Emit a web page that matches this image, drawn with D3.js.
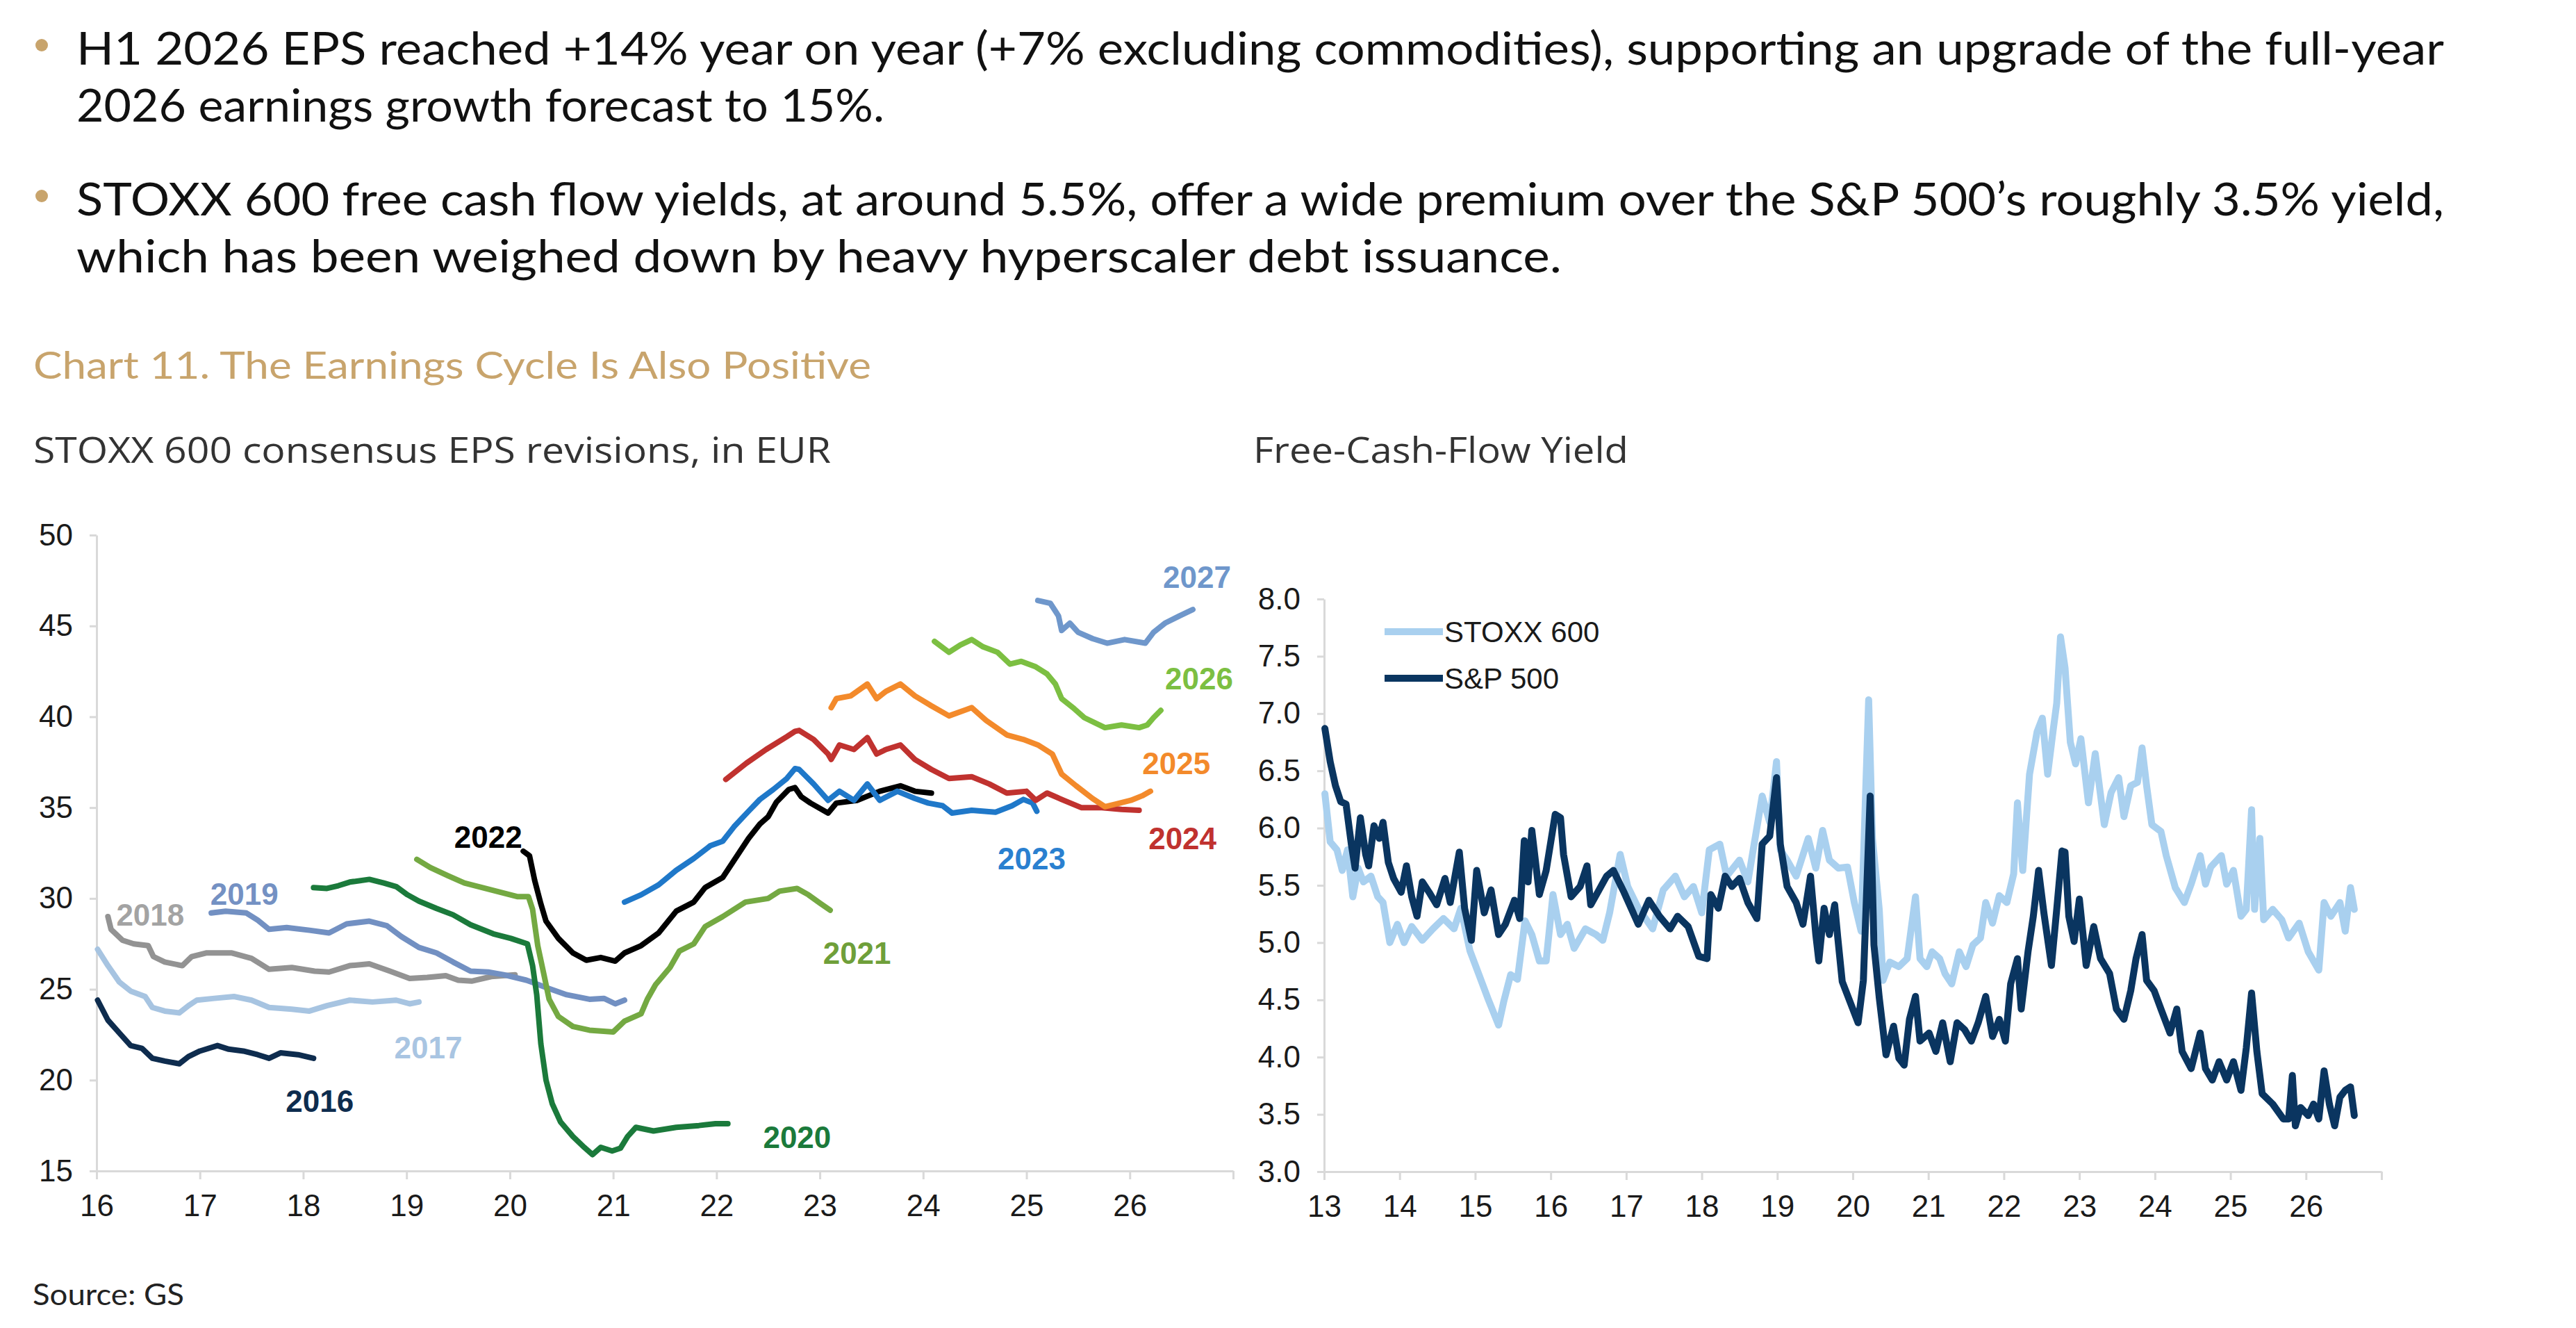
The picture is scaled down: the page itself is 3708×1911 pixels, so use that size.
<!DOCTYPE html>
<html>
<head>
<meta charset="utf-8">
<script src="https://cdn.jsdelivr.net/npm/d3@7"></script>
<style>
  html, body { margin: 0; padding: 0; background: #fff; }
  svg { display: block; }
</style>
</head>
<body>
<svg id="chart" width="3708" height="1911"></svg>
<script>
// ---- text ----
const bullets = [
  ["H1 2026 EPS reached +14% year on year (+7% excluding commodities), supporting an upgrade of the full-year",
   "2026 earnings growth forecast to 15%."],
  ["STOXX 600 free cash flow yields, at around 5.5%, offer a wide premium over the S&P 500\u2019s roughly 3.5% yield,",
   "which has been weighed down by heavy hyperscaler debt issuance."]
];
const chartTitle = "Chart 11. The Earnings Cycle Is Also Positive";
const leftTitle = "STOXX 600 consensus EPS revisions, in EUR";
const rightTitle = "Free-Cash-Flow Yield";
const sourceNote = "Source: GS";

// ---- left panel: consensus EPS for each calendar year, [year, EUR] ----
const epsYears = ["2016", "2017", "2018", "2019", "2020", "2021", "2022", "2023", "2024", "2025", "2026", "2027"];
const eps2016 = [[16.01,24.4],[16.11,23.3],[16.22,22.6],[16.33,21.9],[16.44,21.75],[16.54,21.2],[16.66,21.05],[16.8,20.9],[16.89,21.3],[17.0,21.6],[17.17,21.9],[17.28,21.7],[17.42,21.6],[17.56,21.4],[17.67,21.2],[17.78,21.5],[17.95,21.4],[18.1,21.2]];
const eps2017 = [[16.01,27.2],[16.11,26.3],[16.22,25.4],[16.33,24.9],[16.47,24.6],[16.54,24.0],[16.66,23.8],[16.8,23.7],[16.89,24.1],[16.97,24.4],[17.14,24.5],[17.33,24.6],[17.5,24.4],[17.67,24.0],[17.89,23.9],[18.06,23.8],[18.23,24.1],[18.45,24.4],[18.67,24.3],[18.9,24.4],[19.03,24.2],[19.12,24.3]];
const eps2018 = [[16.11,29.0],[16.14,28.3],[16.25,27.7],[16.36,27.5],[16.5,27.4],[16.55,26.8],[16.66,26.5],[16.83,26.3],[16.92,26.8],[17.06,27.0],[17.31,27.0],[17.5,26.7],[17.67,26.1],[17.89,26.2],[18.11,26.0],[18.25,25.95],[18.45,26.3],[18.64,26.4],[18.84,26.0],[19.03,25.6],[19.2,25.65],[19.38,25.75],[19.5,25.5],[19.63,25.45],[19.82,25.7],[20.05,25.8]];
const eps2019 = [[17.11,29.2],[17.25,29.3],[17.45,29.2],[17.56,28.8],[17.67,28.3],[17.84,28.4],[18.06,28.25],[18.25,28.1],[18.42,28.6],[18.64,28.75],[18.81,28.5],[18.95,27.9],[19.12,27.3],[19.29,27.0],[19.45,26.5],[19.62,26.0],[19.79,25.95],[19.94,25.8],[20.16,25.5],[20.35,25.1],[20.55,24.7],[20.77,24.45],[20.91,24.5],[21.02,24.2],[21.11,24.4]];
const eps2020 = [[18.1,30.6],[18.23,30.55],[18.34,30.7],[18.45,30.9],[18.64,31.05],[18.78,30.85],[18.9,30.65],[19.01,30.2],[19.12,29.85],[19.29,29.45],[19.45,29.1],[19.62,28.55],[19.84,28.05],[20.01,27.8],[20.17,27.5],[20.22,26.3],[20.26,24.7],[20.3,22.0],[20.35,20.0],[20.41,18.7],[20.49,17.7],[20.61,16.9],[20.72,16.3],[20.8,15.9],[20.88,16.3],[20.99,16.1],[21.07,16.25],[21.14,16.9],[21.22,17.4],[21.39,17.2],[21.61,17.4],[21.83,17.5],[21.99,17.6],[22.11,17.6]];
const eps2021 = [[19.1,32.15],[19.23,31.7],[19.4,31.25],[19.56,30.85],[19.73,30.6],[19.9,30.35],[20.07,30.1],[20.18,30.1],[20.22,29.4],[20.27,27.4],[20.33,25.8],[20.38,24.45],[20.47,23.5],[20.61,22.95],[20.77,22.75],[21.0,22.65],[21.11,23.25],[21.27,23.65],[21.33,24.45],[21.41,25.25],[21.55,26.2],[21.64,27.1],[21.78,27.5],[21.89,28.45],[22.06,29.0],[22.28,29.8],[22.5,30.0],[22.61,30.4],[22.78,30.55],[22.89,30.2],[23.0,29.75],[23.1,29.35]];
const eps2022 = [[20.13,32.6],[20.19,32.35],[20.24,31.0],[20.3,29.7],[20.35,28.75],[20.47,27.8],[20.61,27.0],[20.74,26.6],[20.88,26.75],[21.02,26.55],[21.11,27.0],[21.27,27.4],[21.44,28.1],[21.61,29.3],[21.78,29.8],[21.89,30.6],[22.06,31.15],[22.17,32.1],[22.31,33.3],[22.42,34.1],[22.5,34.5],[22.58,35.3],[22.7,36.0],[22.76,36.1],[22.82,35.6],[22.91,35.25],[23.08,34.7],[23.16,35.25],[23.36,35.4],[23.47,35.65],[23.58,35.9],[23.78,36.2],[23.92,35.9],[24.08,35.8]];
const eps2023 = [[21.11,29.8],[21.27,30.2],[21.44,30.75],[21.61,31.55],[21.78,32.2],[21.94,32.9],[22.06,33.15],[22.17,33.95],[22.31,34.8],[22.42,35.45],[22.55,36.0],[22.68,36.6],[22.76,37.15],[22.8,37.1],[22.94,36.3],[23.08,35.4],[23.19,35.9],[23.33,35.4],[23.46,36.3],[23.58,35.4],[23.75,35.9],[23.92,35.5],[24.05,35.25],[24.19,35.1],[24.28,34.7],[24.47,34.85],[24.7,34.75],[24.86,35.1],[24.97,35.45],[25.06,35.25],[25.1,34.8]];
const eps2024 = [[22.09,36.55],[22.29,37.45],[22.48,38.2],[22.68,38.9],[22.76,39.2],[22.8,39.25],[22.94,38.75],[23.08,37.95],[23.11,37.65],[23.19,38.45],[23.33,38.2],[23.46,38.85],[23.55,37.95],[23.64,38.2],[23.78,38.45],[23.92,37.65],[24.08,37.1],[24.25,36.6],[24.47,36.7],[24.64,36.3],[24.81,35.8],[25.0,35.9],[25.09,35.4],[25.2,35.8],[25.36,35.4],[25.53,35.0],[25.73,35.0],[25.92,34.9],[26.09,34.85]];
const eps2025 = [[23.11,40.5],[23.16,41.0],[23.3,41.15],[23.46,41.8],[23.55,41.0],[23.64,41.4],[23.78,41.8],[23.92,41.15],[24.08,40.6],[24.25,40.05],[24.47,40.5],[24.61,39.8],[24.81,39.0],[24.97,38.75],[25.11,38.45],[25.25,37.95],[25.34,36.85],[25.48,36.2],[25.64,35.5],[25.76,35.05],[25.87,35.2],[26.01,35.4],[26.12,35.65],[26.2,35.9]];
const eps2026 = [[24.11,44.15],[24.25,43.55],[24.36,43.95],[24.47,44.25],[24.58,43.85],[24.72,43.55],[24.84,42.9],[24.95,43.05],[25.09,42.75],[25.2,42.35],[25.28,41.8],[25.34,41.0],[25.45,40.5],[25.56,39.95],[25.76,39.4],[25.92,39.55],[26.09,39.4],[26.17,39.55],[26.23,39.95],[26.3,40.35]];
const eps2027 = [[25.11,46.4],[25.23,46.25],[25.31,45.55],[25.34,44.75],[25.42,45.15],[25.5,44.65],[25.64,44.3],[25.78,44.05],[25.95,44.25],[26.15,44.05],[26.23,44.65],[26.34,45.15],[26.48,45.55],[26.61,45.9]];
// where each year's label sits, in data coordinates [year, EUR]
const epsLabelAt = [[18.16,18.85],[19.21,21.8],[16.52,29.1],[17.43,30.25],[22.78,16.85],[23.36,27.0],[19.79,33.4],[25.05,32.2],[26.51,33.3],[26.45,37.45],[26.67,42.1],[26.65,47.7]];
const epsXTicks = ["16", "17", "18", "19", "20", "21", "22", "23", "24", "25", "26"];
const epsYTicks = [15, 20, 25, 30, 35, 40, 45, 50];

// ---- right panel: free-cash-flow yield, [year, %] ----
const fcfNames = ["STOXX 600", "S&P 500"];
const fcfStoxx = [[13.01,6.30],[13.08,5.88],[13.17,5.81],[13.24,5.63],[13.31,5.81],[13.38,5.40],[13.45,5.65],[13.52,5.53],[13.62,5.58],[13.71,5.40],[13.78,5.35],[13.87,5.00],[13.97,5.16],[14.06,5.00],[14.16,5.14],[14.30,5.02],[14.44,5.12],[14.58,5.21],[14.72,5.12],[14.81,5.30],[14.93,4.93],[15.05,4.72],[15.17,4.51],[15.31,4.28],[15.38,4.49],[15.47,4.72],[15.56,4.68],[15.66,5.19],[15.75,5.07],[15.85,4.84],[15.94,4.84],[16.03,5.42],[16.13,5.07],[16.22,5.16],[16.31,4.95],[16.46,5.12],[16.60,5.07],[16.69,5.02],[16.78,5.26],[16.92,5.77],[17.02,5.49],[17.16,5.30],[17.35,5.12],[17.49,5.46],[17.65,5.58],[17.77,5.40],[17.89,5.49],[18.00,5.26],[18.10,5.81],[18.24,5.86],[18.33,5.58],[18.50,5.72],[18.61,5.53],[18.80,6.28],[18.90,6.05],[18.99,6.58],[19.04,5.81],[19.13,5.72],[19.25,5.58],[19.41,5.91],[19.51,5.65],[19.60,5.98],[19.69,5.72],[19.81,5.65],[19.93,5.66],[20.02,5.35],[20.11,5.10],[20.21,7.12],[20.26,5.91],[20.35,5.29],[20.40,4.67],[20.49,4.83],[20.61,4.79],[20.72,4.86],[20.83,5.40],[20.89,4.86],[20.98,4.79],[21.05,4.92],[21.15,4.86],[21.22,4.73],[21.31,4.64],[21.41,4.92],[21.50,4.79],[21.59,4.98],[21.69,5.04],[21.76,5.35],[21.85,5.17],[21.94,5.41],[22.04,5.35],[22.13,5.60],[22.18,6.22],[22.25,5.63],[22.34,6.47],[22.44,6.84],[22.51,6.96],[22.58,6.47],[22.65,6.84],[22.70,7.09],[22.75,7.67],[22.81,7.40],[22.88,6.75],[22.95,6.56],[23.02,6.78],[23.12,6.22],[23.21,6.65],[23.33,6.03],[23.42,6.31],[23.52,6.44],[23.59,6.10],[23.68,6.37],[23.77,6.40],[23.83,6.70],[23.89,6.37],[23.96,6.03],[24.08,5.97],[24.15,5.76],[24.27,5.48],[24.39,5.35],[24.48,5.51],[24.60,5.76],[24.67,5.51],[24.74,5.66],[24.88,5.76],[24.95,5.51],[25.04,5.63],[25.14,5.23],[25.21,5.29],[25.28,6.16],[25.32,5.29],[25.39,5.91],[25.44,5.20],[25.56,5.29],[25.68,5.20],[25.77,5.04],[25.91,5.17],[26.03,4.92],[26.17,4.76],[26.24,5.35],[26.33,5.23],[26.45,5.35],[26.52,5.10],[26.59,5.48],[26.64,5.29]];
const fcfSpx = [[13.01,6.87],[13.08,6.58],[13.15,6.37],[13.22,6.23],[13.29,6.21],[13.36,5.86],[13.41,5.65],[13.48,6.09],[13.55,5.77],[13.59,5.67],[13.66,6.02],[13.73,5.91],[13.78,6.05],[13.85,5.70],[13.92,5.56],[14.02,5.44],[14.09,5.67],[14.16,5.40],[14.23,5.23],[14.30,5.53],[14.39,5.44],[14.49,5.33],[14.60,5.56],[14.67,5.35],[14.79,5.79],[14.86,5.30],[14.95,5.02],[15.02,5.63],[15.12,5.26],[15.21,5.46],[15.31,5.07],[15.40,5.16],[15.52,5.37],[15.59,5.21],[15.65,5.89],[15.70,5.53],[15.75,5.98],[15.85,5.42],[15.94,5.63],[16.06,6.12],[16.13,6.09],[16.17,5.77],[16.27,5.40],[16.39,5.49],[16.48,5.67],[16.53,5.33],[16.64,5.46],[16.74,5.58],[16.83,5.63],[16.97,5.44],[17.16,5.16],[17.30,5.37],[17.44,5.23],[17.58,5.12],[17.68,5.23],[17.82,5.14],[17.96,4.88],[18.07,4.86],[18.12,5.42],[18.22,5.30],[18.31,5.58],[18.40,5.49],[18.50,5.56],[18.61,5.35],[18.73,5.21],[18.80,5.86],[18.90,5.93],[18.99,6.44],[19.04,5.86],[19.13,5.49],[19.25,5.35],[19.34,5.16],[19.44,5.58],[19.51,5.07],[19.55,4.84],[19.62,5.30],[19.69,5.07],[19.76,5.33],[19.80,5.05],[19.86,4.66],[19.93,4.54],[20.07,4.30],[20.14,4.67],[20.23,6.28],[20.28,4.98],[20.35,4.52],[20.44,4.02],[20.54,4.27],[20.61,3.99],[20.68,3.93],[20.75,4.33],[20.83,4.53],[20.89,4.14],[21.01,4.21],[21.10,4.05],[21.19,4.30],[21.29,3.96],[21.38,4.30],[21.48,4.24],[21.57,4.14],[21.66,4.30],[21.76,4.53],[21.85,4.18],[21.94,4.33],[22.02,4.14],[22.09,4.64],[22.18,4.86],[22.23,4.42],[22.32,4.92],[22.39,5.23],[22.46,5.63],[22.53,5.26],[22.63,4.80],[22.70,5.29],[22.77,5.80],[22.81,5.79],[22.86,5.23],[22.93,5.01],[23.00,5.38],[23.09,4.80],[23.19,5.14],[23.28,4.86],[23.40,4.73],[23.49,4.42],[23.59,4.33],[23.68,4.58],[23.75,4.86],[23.83,5.07],[23.89,4.67],[23.99,4.58],[24.08,4.42],[24.20,4.21],[24.29,4.42],[24.36,4.05],[24.48,3.90],[24.60,4.21],[24.67,3.90],[24.76,3.80],[24.85,3.96],[24.95,3.80],[25.04,3.96],[25.14,3.71],[25.21,4.08],[25.28,4.56],[25.35,4.05],[25.42,3.68],[25.56,3.59],[25.70,3.46],[25.77,3.46],[25.82,3.84],[25.86,3.40],[25.93,3.56],[26.03,3.49],[26.10,3.59],[26.17,3.46],[26.24,3.88],[26.31,3.59],[26.38,3.40],[26.45,3.65],[26.52,3.71],[26.59,3.74],[26.64,3.49]];
const fcfXTicks = ["13", "14", "15", "16", "17", "18", "19", "20", "21", "22", "23", "24", "25", "26"];
const fcfYTicks = [3.0, 3.5, 4.0, 4.5, 5.0, 5.5, 6.0, 6.5, 7.0, 7.5, 8.0];

// ---- styles ----
const gold = "#c8a46c";
const axisGrey = "#d9d9d9";
const tickFont = "'Liberation Sans', Arial, sans-serif";
const bodyFont = "Lato, 'Open Sans', sans-serif";
const epsColors = ["#0e2c4e", "#a7c4e1", "#939393", "#7290c2", "#1b7a3b", "#74a942", "#000000", "#1f78c9", "#c0322f", "#f38a2b", "#7cbf42", "#6f97cb"];
const epsLabelColors = ["#0e2c4e", "#a9c5e2", "#a3a3a3", "#7491c3", "#1b7a3b", "#6f9f3a", "#000000", "#2a80d0", "#c0322f", "#f38a2b", "#7cbf42", "#6f97cb"];
const fcfColors = ["#a9d0ef", "#0a3560"];

const svg = d3.select("#chart");
svg.append("rect").attr("width", 3708).attr("height", 1911).attr("fill", "#fff");

// squeeze/stretch a text node to the width it has in the reference
const fitWidth = (sel, w) => sel.attr("textLength", w).attr("lengthAdjust", "spacingAndGlyphs");

// ---- header text ----
const bulletTop = [93, 310];
const bulletWidths = [[3408, 1163], [3408, 2138]];
bullets.forEach((lines, i) => {
  svg.append("circle").attr("cx", 60).attr("cy", bulletTop[i] - 28).attr("r", 9).attr("fill", gold);
  lines.forEach((line, j) => {
    svg.append("text")
      .attr("x", 110).attr("y", bulletTop[i] + j * 82)
      .attr("font-family", bodyFont).attr("font-size", 66).attr("fill", "#111")
      .text(line)
      .call(fitWidth, bulletWidths[i][j]);
  });
});

svg.append("text")
  .attr("x", 48).attr("y", 545)
  .attr("font-family", bodyFont).attr("font-size", 54).attr("fill", gold)
  .text(chartTitle).call(fitWidth, 1206);

svg.append("text")
  .attr("x", 48).attr("y", 666)
  .attr("font-family", "'Open Sans', sans-serif").attr("font-size", 52).attr("fill", "#333")
  .text(leftTitle).call(fitWidth, 1148);

svg.append("text")
  .attr("x", 1804).attr("y", 666)
  .attr("font-family", "'Open Sans', sans-serif").attr("font-size", 52).attr("fill", "#333")
  .text(rightTitle).call(fitWidth, 540);

svg.append("text")
  .attr("x", 47).attr("y", 1878)
  .attr("font-family", bodyFont).attr("font-size", 42).attr("fill", "#222")
  .text(sourceNote).call(fitWidth, 218);

// ---- axis helper ----
function styleAxis(g) {
  g.select(".domain").attr("stroke", axisGrey).attr("stroke-width", 3);
  g.selectAll(".tick line").attr("stroke", axisGrey).attr("stroke-width", 3);
  g.selectAll(".tick text").attr("fill", "#1a1a1a").attr("font-family", tickFont).attr("font-size", 44);
}

// ---- left panel ----
const xL = d3.scaleLinear().domain([16, 27]).range([139, 1775]);
const yL = d3.scaleLinear().domain([15, 50]).range([1685, 770]);

svg.append("g").attr("transform", `translate(0,${yL(15)})`)
  .call(d3.axisBottom(xL).tickValues(d3.range(16, 28)).tickSize(12).tickSizeOuter(0).tickPadding(22)
    .tickFormat(d => epsXTicks[d - 16] || ""))
  .call(g => g.attr("font-size", null).attr("font-family", null))
  .call(styleAxis);

svg.append("g").attr("transform", `translate(${xL(16)},0)`)
  .call(d3.axisLeft(yL).tickValues(epsYTicks).tickSize(10).tickSizeOuter(0).tickPadding(24).tickFormat(d3.format("d")))
  .call(g => g.attr("font-size", null).attr("font-family", null))
  .call(styleAxis);

const epsSeries = [eps2016, eps2017, eps2018, eps2019, eps2020, eps2021, eps2022, eps2023, eps2024, eps2025, eps2026, eps2027];
const lineL = d3.line().x(d => xL(d[0])).y(d => yL(d[1]));

svg.append("g").selectAll("path")
  .data(epsSeries)
  .join("path")
  .attr("d", lineL)
  .attr("fill", "none")
  .attr("stroke", (d, i) => epsColors[i])
  .attr("stroke-width", 8)
  .attr("stroke-linejoin", "round")
  .attr("stroke-linecap", "round");

svg.append("g").selectAll("text")
  .data(epsYears)
  .join("text")
  .attr("x", (d, i) => xL(epsLabelAt[i][0]))
  .attr("y", (d, i) => yL(epsLabelAt[i][1]))
  .attr("dy", "0.36em")
  .attr("text-anchor", "middle")
  .attr("font-family", tickFont)
  .attr("font-weight", "bold")
  .attr("font-size", 44)
  .attr("fill", (d, i) => epsLabelColors[i])
  .text(d => d);

// ---- right panel ----
const xR = d3.scaleLinear().domain([13, 27]).range([1906, 3428]);
const yR = d3.scaleLinear().domain([3, 8]).range([1686, 862]);

svg.append("g").attr("transform", `translate(0,${yR(3)})`)
  .call(d3.axisBottom(xR).tickValues(d3.range(13, 28)).tickSize(12).tickSizeOuter(0).tickPadding(22)
    .tickFormat(d => fcfXTicks[d - 13] || ""))
  .call(g => g.attr("font-size", null).attr("font-family", null))
  .call(styleAxis);

svg.append("g").attr("transform", `translate(${xR(13)},0)`)
  .call(d3.axisLeft(yR).tickValues(fcfYTicks).tickSize(10).tickSizeOuter(0).tickPadding(24).tickFormat(d3.format(".1f")))
  .call(g => g.attr("font-size", null).attr("font-family", null))
  .call(styleAxis);

const fcfSeries = [fcfStoxx, fcfSpx];
const lineR = d3.line().x(d => xR(d[0])).y(d => yR(d[1]));

svg.append("g").selectAll("path")
  .data(fcfSeries)
  .join("path")
  .attr("d", lineR)
  .attr("fill", "none")
  .attr("stroke", (d, i) => fcfColors[i])
  .attr("stroke-width", 10)
  .attr("stroke-linejoin", "round")
  .attr("stroke-linecap", "round");

// legend
const legend = svg.append("g").attr("transform", "translate(1993,909)");
const legendItem = legend.selectAll("g")
  .data(fcfNames)
  .join("g")
  .attr("transform", (d, i) => `translate(0,${i * 67})`);
legendItem.append("line")
  .attr("x1", 0).attr("x2", 84)
  .attr("stroke", (d, i) => fcfColors[i])
  .attr("stroke-width", 10);
legendItem.append("text")
  .attr("x", 86).attr("dy", "0.36em")
  .attr("font-family", tickFont).attr("font-size", 42).attr("fill", "#1a1a1a")
  .text(d => d);
</script>
</body>
</html>
